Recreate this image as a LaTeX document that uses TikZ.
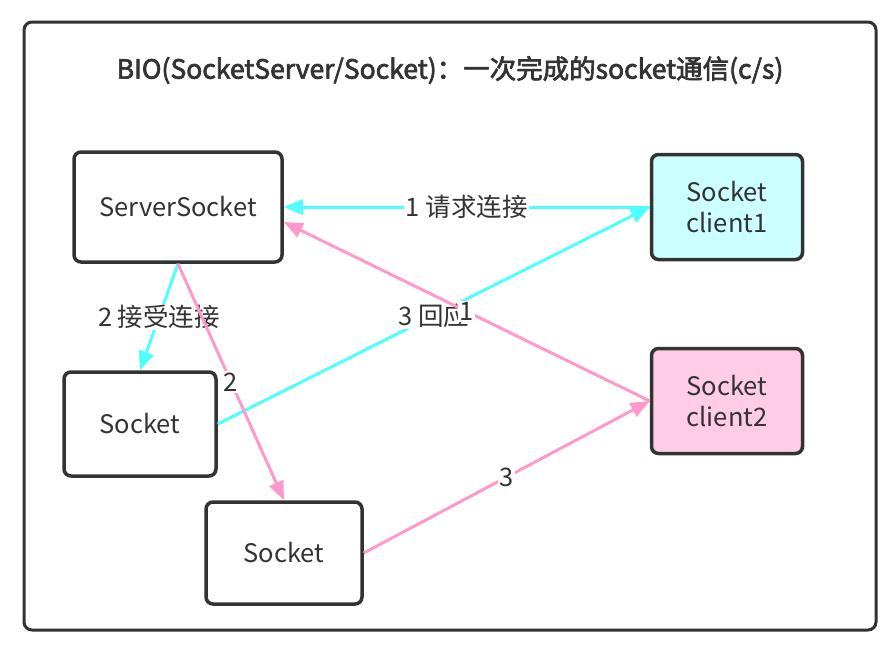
\documentclass[tikz,border=0pt]{standalone}
\usepackage{fontspec}
\setmainfont{Noto Sans CJK SC}
\newfontfamily\titlefont[FakeBold=2.5]{Noto Sans CJK SC}
\usetikzlibrary{arrows.meta,positioning}
\definecolor{inkgray}{HTML}{333333}
\definecolor{reqcyan}{HTML}{4DFFFF}
\definecolor{ackpink}{HTML}{FF99CC}
\definecolor{cyanfill}{HTML}{CCFFFF}
\definecolor{pinkfill}{HTML}{FFCCE6}

\begin{document}
\begin{tikzpicture}[x=1pt,y=-1pt,->,>={Triangle[length=19pt,width=15pt]},
                    line width=3pt,
                    box/.style={draw=inkgray,line width=3.5pt,rounded corners=7pt,
                                text=inkgray,align=center,inner sep=0pt,
                                font=\fontsize{25.5}{31}\selectfont},
                    lbl/.style={fill=white,text=inkgray,inner sep=1.5pt,
                                font=\fontsize{25.5}{30}\selectfont}]

  \useasboundingbox (0,0) rectangle (894,656);
  \draw[-,inkgray,line width=3pt,rounded corners=8pt] (24,22) rectangle (876,630);

  \node[text=inkgray,font=\titlefont\fontsize{26.5}{32}\selectfont] (title) at (450,70)
       {BIO(SocketServer/Socket)：一次完成的socket通信(c/s)};

  \node[box,minimum width=208pt,minimum height=110pt] (server) at (178,207) {ServerSocket};
  \node[box,fill=cyanfill,minimum width=151pt,minimum height=105pt] (client1) at (727,207) {Socket\\client1};
  \node[box,fill=pinkfill,minimum width=151pt,minimum height=105pt] (client2) at (727,401) {Socket\\client2};
  \node[box,minimum width=152pt,minimum height=104pt] (sockA) at (140,424) {Socket};
  \node[box,minimum width=156pt,minimum height=102pt] (sockB) at (284,553) {Socket};

  % client1 (cyan)
  \begin{scope}[reqcyan]
    \path (client1.west) edge node[lbl]{1 请求连接} (server.east)
          (server.south) edge node[lbl]{2 接受连接} (sockA.north)
          (sockA.east)   edge node[lbl]{3 回应} (client1.west);
  \end{scope}

  % client2 (pink)
  \begin{scope}[ackpink]
    \path (client2.west) edge node[lbl]{1} ([yshift=-15pt]server.east)
          (server.south) edge node[lbl]{2} (sockB.north)
          (sockB.east)   edge node[lbl]{3} (client2.west);
  \end{scope}

\end{tikzpicture}
\end{document}
